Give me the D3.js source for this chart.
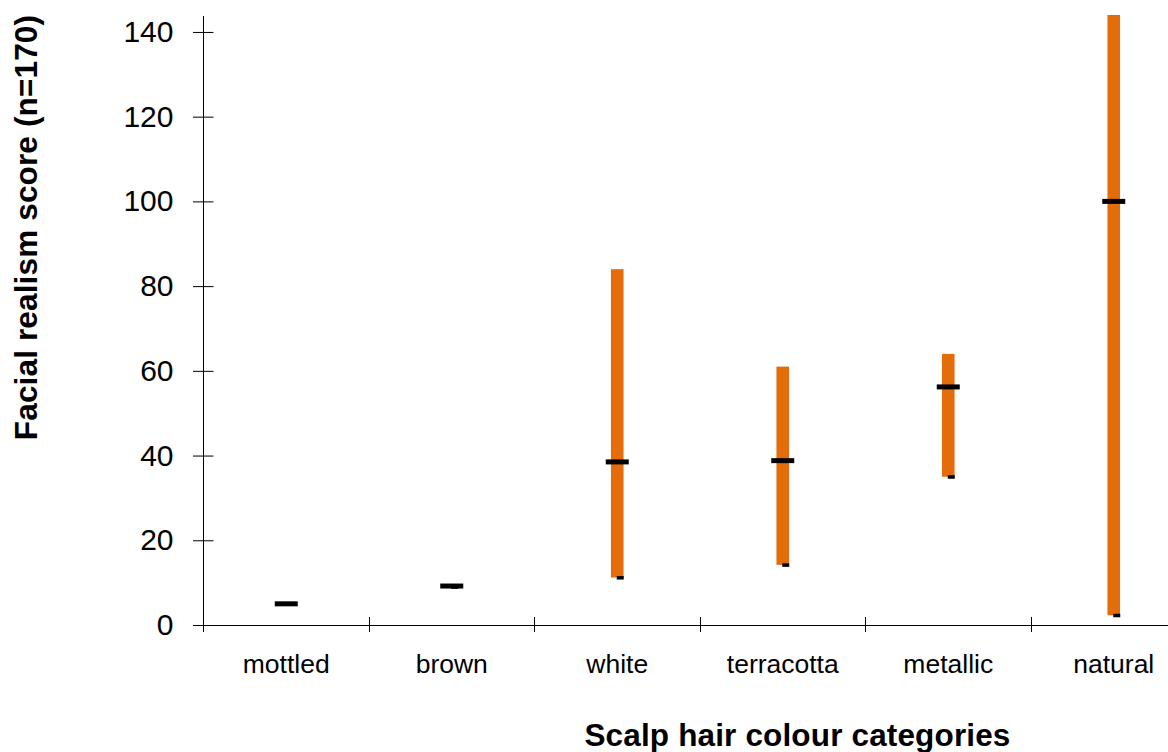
<!DOCTYPE html>
<html>
<head>
<meta charset="utf-8">
<script src="https://cdn.jsdelivr.net/npm/d3@7"></script>
<style>
  html, body { margin: 0; padding: 0; background: #fff; }
  svg { display: block; font-family: "Liberation Sans", Arial, sans-serif; }
</style>
</head>
<body>
<svg id="chart"></svg>
<script>
// data ----------------------------------
const categories = ['mottled', 'brown', 'white', 'terracotta', 'metallic', 'natural'];
const maxVals = [5, 9, 84, 61, 64, 144];
const minVals = [5, 9, 11.2, 14.2, 35, 2.3];
const medianVals = [5, 9.2, 38.5, 38.8, 56.2, 100];
const yTicks = [0, 20, 40, 60, 80, 100, 120, 140];

const data = categories.map((c, i) => ({ cat: c, max: maxVals[i], min: minVals[i], med: medianVals[i] }));

const W = 1168, H = 752;
const x0 = 203.5, y0 = 625;
const step = 165.5;

const svg = d3.select('#chart').attr('width', W).attr('height', H);
svg.append('rect').attr('width', W).attr('height', H).attr('fill', '#fff');

const x = d3.scaleBand().domain(categories).range([x0, x0 + step * categories.length]).padding(0);
const y = d3.scaleLinear().domain([0, 144]).range([y0, 15]);

// y axis
const yAxis = d3.axisLeft(y).tickValues(yTicks).tickSizeOuter(0);
const gy = svg.append('g').attr('transform', 'translate(' + x0 + ',0)').call(yAxis);
gy.select('.domain').remove();
gy.selectAll('.tick line').attr('x1', -10.5).attr('x2', 10).attr('stroke', '#000');
gy.selectAll('.tick text').attr('x', -30).attr('font-size', 30).attr('fill', '#000')
    .attr('font-family', '"Liberation Sans", Arial, sans-serif');
svg.append('line').attr('x1', x0).attr('x2', x0).attr('y1', 16).attr('y2', y0)
    .attr('stroke', '#000').attr('shape-rendering', 'crispEdges');

// x axis
const bounds = d3.range(categories.length + 1).map(i => x0 + i * step);
const xAxis = d3.axisBottom(x).tickSize(0);
const gx = svg.append('g').attr('transform', 'translate(0,' + y0 + ')').call(xAxis);
gx.select('.domain').remove();
gx.selectAll('.tick text').attr('y', 48).attr('dy', 0).attr('font-size', 26.5).attr('fill', '#000')
    .attr('font-family', '"Liberation Sans", Arial, sans-serif');
svg.append('line').attr('x1', 193).attr('x2', W).attr('y1', y0).attr('y2', y0)
    .attr('stroke', '#000').attr('shape-rendering', 'crispEdges');
svg.append('g').selectAll('line').data(bounds).join('line')
    .attr('x1', d => d).attr('x2', d => d).attr('y1', y0 - 8).attr('y2', y0 + 7)
    .attr('stroke', '#000').attr('shape-rendering', 'crispEdges');

// marks
const cx = d => x(d.cat) + x.bandwidth() / 2;
const marks = svg.append('g');
marks.selectAll('rect.bar').data(data.filter(d => d.max > d.min)).join('rect')
    .attr('class', 'bar')
    .attr('x', d => cx(d) - 6.3).attr('width', 12.6)
    .attr('y', d => y(d.max)).attr('height', d => y(d.min) - y(d.max))
    .attr('fill', '#E46C0A');
marks.selectAll('rect.minmark').data(data).join('rect')
    .attr('class', 'minmark')
    .attr('x', d => cx(d) - 0.5).attr('width', 7)
    .attr('y', d => y(d.min) - 1.5).attr('height', 3.5)
    .attr('fill', '#000');
marks.selectAll('rect.med').data(data).join('rect')
    .attr('class', 'med')
    .attr('x', d => cx(d) - 11.5).attr('width', 23)
    .attr('y', d => y(d.med) - 2.5).attr('height', 5)
    .attr('fill', '#000');

// titles
svg.append('text').attr('x', 797.5).attr('y', 746).attr('text-anchor', 'middle')
    .attr('font-size', 31.5).attr('font-weight', 'bold').attr('letter-spacing', 0.15)
    .text('Scalp hair colour categories');
svg.append('text').attr('transform', 'translate(37,227.5) rotate(-90)').attr('text-anchor', 'middle')
    .attr('font-size', 31.5).attr('font-weight', 'bold').attr('letter-spacing', 0.15)
    .text('Facial realism score (n=170)');
</script>
</body>
</html>
